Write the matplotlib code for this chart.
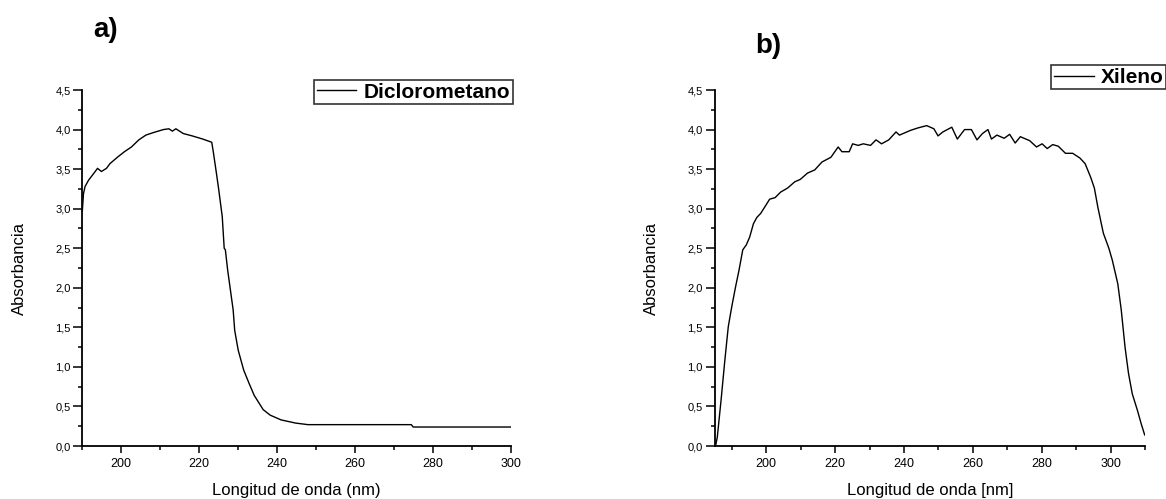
import matplotlib
matplotlib.use("Agg")
import matplotlib.pyplot as plt
from matplotlib.ticker import MultipleLocator, FuncFormatter

plt.rcParams['font.family'] = ['Liberation Sans', 'DejaVu Sans']

# a) Diclorometano
wl_a = [190.0, 190.3, 190.7, 191.6, 193.0, 193.9, 194.9, 196.2, 197.1, 199.0,
        200.8, 202.6, 204.5, 206.3, 208.1, 210.8, 212.2, 213.1, 214.0, 215.9,
        218.2, 220.9, 223.2, 223.6, 224.4, 225.0, 225.9, 226.4, 226.7, 227.3,
        228.7, 229.1, 230.0, 231.4, 232.8, 234.1, 236.4, 238.2, 241.0, 244.7,
        247.9, 260.2, 274.4, 274.9, 300.0]
abs_a = [2.97, 3.19, 3.28, 3.36, 3.45, 3.51, 3.47, 3.51, 3.57, 3.65,
         3.72, 3.78, 3.87, 3.93, 3.96, 4.00, 4.01, 3.98, 4.01, 3.95,
         3.92, 3.88, 3.84, 3.72, 3.45, 3.24, 2.90, 2.50, 2.48, 2.22,
         1.72, 1.46, 1.21, 0.96, 0.79, 0.64, 0.46, 0.39, 0.33, 0.29,
         0.27, 0.27, 0.27, 0.24, 0.24]

# b) Xileno
wl_b = [185.3, 185.8, 186.9, 187.9, 188.5, 189.0, 190.0, 191.1, 192.1, 193.2,
        194.2, 195.2, 196.3, 197.3, 198.4, 200.0, 201.0, 202.6, 204.2, 206.2,
        208.3, 209.9, 212.0, 214.1, 216.2, 218.8, 220.9, 222.0, 224.1, 225.1,
        226.7, 228.2, 230.3, 231.9, 233.5, 235.6, 237.7, 238.7, 240.3, 241.9,
        244.0, 246.6, 248.7, 249.9, 251.3, 253.9, 255.5, 257.6, 259.6, 261.2,
        262.8, 264.4, 265.4, 267.0, 269.1, 270.7, 272.3, 273.8, 276.5, 278.5,
        280.1, 281.6, 283.2, 284.8, 286.9, 289.0, 291.1, 292.6, 294.2, 295.3,
        296.3, 297.9, 299.5, 300.5, 302.1, 303.1, 304.2, 305.2, 306.3, 307.8,
        308.9, 309.9]
abs_b = [0.00, 0.11, 0.58, 1.04, 1.30, 1.51, 1.76, 2.01, 2.22, 2.48,
         2.54, 2.64, 2.81, 2.89, 2.94, 3.05, 3.12, 3.14, 3.21, 3.26,
         3.34, 3.37, 3.45, 3.49, 3.59, 3.65, 3.78, 3.72, 3.72, 3.82,
         3.80, 3.82, 3.80, 3.87, 3.82, 3.87, 3.97, 3.93, 3.96, 3.99,
         4.02, 4.05, 4.01, 3.92, 3.97, 4.03, 3.88, 4.00, 4.00, 3.87,
         3.95, 4.00, 3.88, 3.93, 3.89, 3.94, 3.83, 3.91, 3.86, 3.78,
         3.82, 3.76, 3.81, 3.79, 3.70, 3.70, 3.64, 3.57, 3.40, 3.26,
         3.02, 2.69, 2.50, 2.35, 2.05, 1.72, 1.25, 0.92, 0.66, 0.45,
         0.28, 0.14]

comma = FuncFormatter(lambda v, p: f"{v:.1f}".replace(".", ","))
intfmt = FuncFormatter(lambda v, p: f"{v:.0f}")

fig = plt.figure(figsize=(11.66, 4.99), dpi=100)
ax_a = fig.add_axes([0.0706, 0.1062, 0.3677, 0.7134])
ax_b = fig.add_axes([0.6128, 0.1062, 0.3692, 0.7134])

panels = [
    (ax_a, wl_a, abs_a, "Diclorometano", (190, 300), "Longitud de onda (nm)", (0.3546, 0.8156)),
    (ax_b, wl_b, abs_b, "Xileno", (185, 310), "Longitud de onda [nm]", (0.9510, 0.8447)),
]

for ax, x, y, name, xlim, xlabel, legpos in panels:
    ax.plot(x, y, color="black", lw=1.0, label=name)
    ax.set_xlim(*xlim)
    ax.set_ylim(0, 4.5)
    for s in ["top", "right"]:
        ax.spines[s].set_visible(False)
    for s in ["left", "bottom"]:
        ax.spines[s].set_linewidth(1.3)
    ax.xaxis.set_major_locator(MultipleLocator(20))
    ax.xaxis.set_minor_locator(MultipleLocator(10))
    ax.yaxis.set_major_locator(MultipleLocator(0.5))
    ax.yaxis.set_minor_locator(MultipleLocator(0.25))
    ax.yaxis.set_major_formatter(comma)
    ax.xaxis.set_major_formatter(intfmt)
    ax.tick_params(axis="y", which="major", direction="out", length=6.5, width=1.1,
                   labelsize=8, pad=2)
    ax.tick_params(axis="y", which="minor", direction="out", length=3, width=1.1)
    ax.tick_params(axis="x", which="major", direction="out", length=4.8, width=1.1,
                   labelsize=9, pad=3.5)
    ax.tick_params(axis="x", which="minor", direction="out", length=3, width=1.1)
    ax.set_ylabel("Absorbancia", fontsize=12)
    ax.yaxis.set_label_coords(-0.13, 0.5)
    ax.set_xlabel(xlabel, fontsize=12, va="top")
    ax.xaxis.set_label_coords(0.5, -0.104)
    leg = ax.legend(loc="center", bbox_to_anchor=legpos, bbox_transform=fig.transFigure,
                    frameon=True, fancybox=False, handlelength=1.9, handletextpad=0.35,
                    borderpad=0.12, borderaxespad=0,
                    prop={"weight": "bold", "size": 15})
    leg.get_frame().set_edgecolor("black")
    leg.get_frame().set_linewidth(1.2)

fig.text(0.0909, 0.940, "a)", fontsize=20, fontweight="bold", ha="center", va="center")
fig.text(0.6587, 0.908, "b)", fontsize=20, fontweight="bold", ha="center", va="center")

fig.savefig("out.png", dpi=100)
